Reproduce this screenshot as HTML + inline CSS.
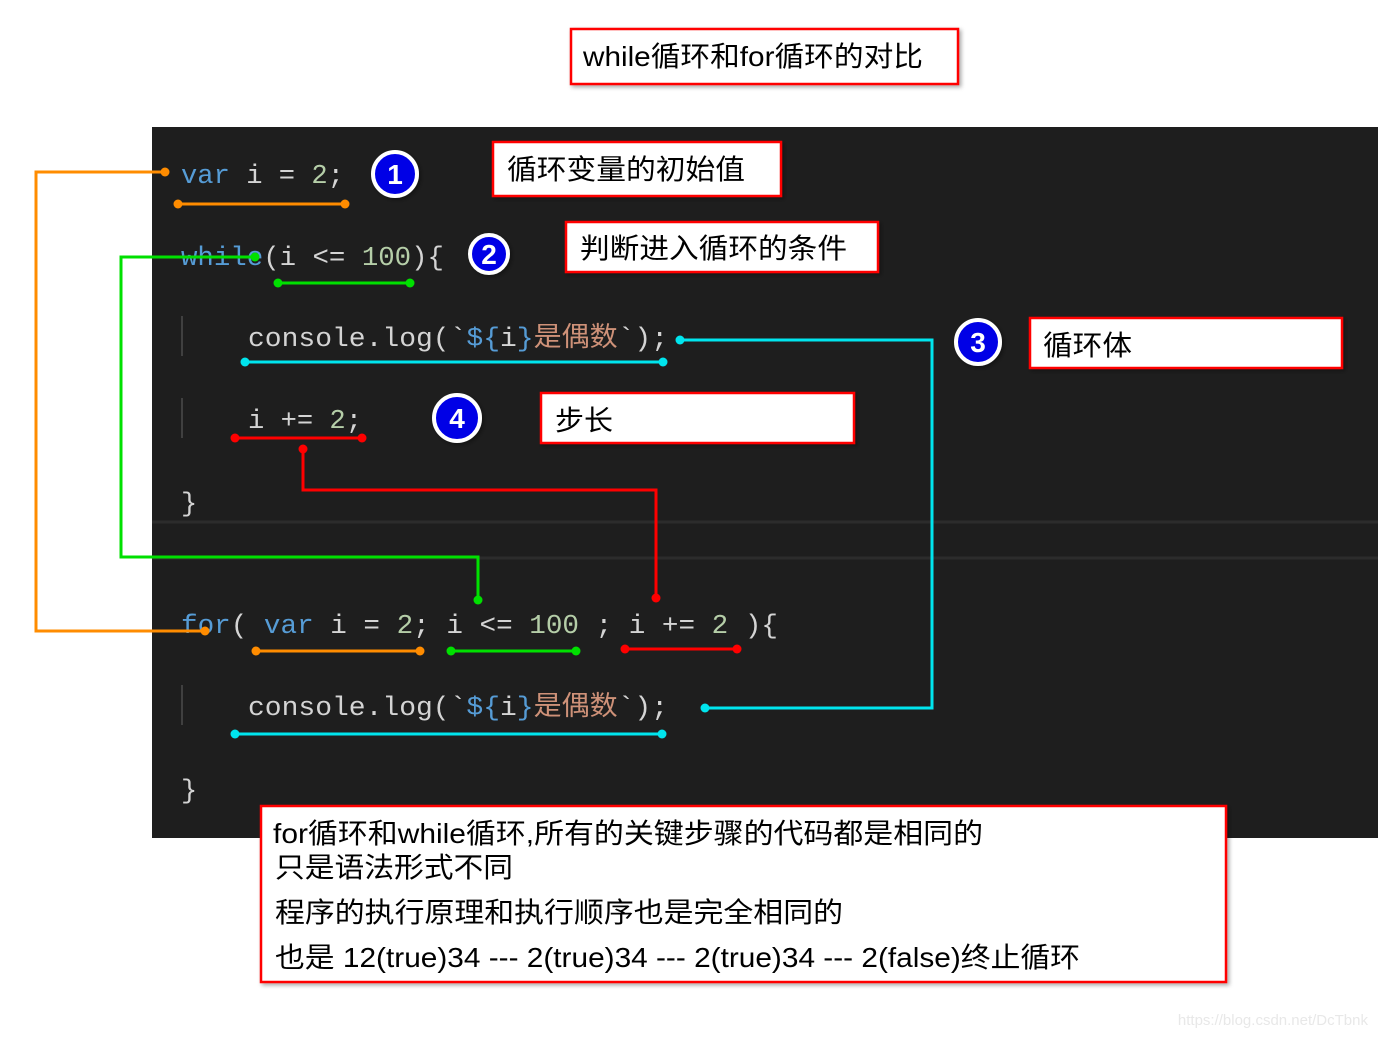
<!DOCTYPE html>
<html><head><meta charset="utf-8"><style>
html,body{margin:0;padding:0;background:#fff;width:1378px;height:1038px;overflow:hidden}
svg{display:block}
.c{font-family:"Liberation Mono","Noto Sans CJK SC",monospace;font-size:27px}
.k{fill:#569cd6}.n{fill:#b5cea8}.t{fill:#d4d4d4}.s{fill:#ce9178}
.b{font-family:"Liberation Sans","Noto Sans CJK SC",sans-serif;font-size:28px;fill:#000}
.num{font-family:"Liberation Sans",sans-serif;font-weight:bold;font-size:28px;fill:#fff}
</style></head><body>
<svg width="1378" height="1038" viewBox="0 0 1378 1038" xmlns="http://www.w3.org/2000/svg">
<defs><filter id="sh" x="-20%" y="-20%" width="140%" height="140%"><feDropShadow dx="2" dy="2" stdDeviation="2" flood-color="#000" flood-opacity="0.35"/></filter></defs>
<rect x="152" y="127" width="1226" height="711" fill="#1e1e1e"/>
<line x1="152" y1="522" x2="1378" y2="522" stroke="#2c2c2c" stroke-width="3"/>
<line x1="152" y1="558" x2="1378" y2="558" stroke="#2c2c2c" stroke-width="3"/>
<line x1="182" y1="316" x2="182" y2="356" stroke="#404040" stroke-width="2"/>
<line x1="182" y1="398" x2="182" y2="438" stroke="#404040" stroke-width="2"/>
<line x1="182" y1="685" x2="182" y2="725" stroke="#404040" stroke-width="2"/>

<!-- code -->
<text class="c" x="181" y="183" xml:space="preserve" textLength="163" lengthAdjust="spacingAndGlyphs"><tspan class="k">var</tspan><tspan class="t"> i = </tspan><tspan class="n">2</tspan><tspan class="t">;</tspan></text>
<text class="c" x="181" y="265" xml:space="preserve" textLength="263" lengthAdjust="spacingAndGlyphs"><tspan class="k">while</tspan><tspan class="t">(i &lt;= </tspan><tspan class="n">100</tspan><tspan class="t">){</tspan></text>
<text class="c" x="248" y="346" xml:space="preserve" textLength="420" lengthAdjust="spacingAndGlyphs"><tspan class="t">console.log(`</tspan><tspan class="k">${</tspan><tspan class="t">i</tspan><tspan class="k">}</tspan><tspan class="s">是偶数</tspan><tspan class="t">`);</tspan></text>
<text class="c" x="248" y="428" xml:space="preserve" textLength="114" lengthAdjust="spacingAndGlyphs"><tspan class="t">i += </tspan><tspan class="n">2</tspan><tspan class="t">;</tspan></text>
<text class="c t" x="181" y="511">}</text>
<text class="c" x="181" y="633" xml:space="preserve" textLength="597" lengthAdjust="spacingAndGlyphs"><tspan class="k">for</tspan><tspan class="t">( </tspan><tspan class="k">var</tspan><tspan class="t"> i = </tspan><tspan class="n">2</tspan><tspan class="t">; i &lt;= </tspan><tspan class="n">100</tspan><tspan class="t"> ; i += </tspan><tspan class="n">2</tspan><tspan class="t"> ){</tspan></text>
<text class="c" x="248" y="715" xml:space="preserve" textLength="420" lengthAdjust="spacingAndGlyphs"><tspan class="t">console.log(`</tspan><tspan class="k">${</tspan><tspan class="t">i</tspan><tspan class="k">}</tspan><tspan class="s">是偶数</tspan><tspan class="t">`);</tspan></text>
<text class="c t" x="181" y="798">}</text>

<!-- connectors -->
<g fill="none" stroke-width="3">
<polyline points="165,172 36,172 36,631 205,631" stroke="#ff8c00"/>
<line x1="178" y1="204" x2="345" y2="204" stroke="#ff8c00"/>
<line x1="256" y1="651" x2="420" y2="651" stroke="#ff8c00"/>
<polyline points="255,257 121,257 121,557 478,557 478,600" stroke="#00e000"/>
<line x1="278" y1="283" x2="410" y2="283" stroke="#00e000"/>
<line x1="451" y1="651" x2="576" y2="651" stroke="#00e000"/>
<polyline points="680,340 932,340 932,708 705,708" stroke="#00e5ee"/>
<line x1="245" y1="362" x2="663" y2="362" stroke="#00e5ee"/>
<line x1="235" y1="734" x2="662" y2="734" stroke="#00e5ee"/>
<polyline points="303,449 303,490 656,490 656,598" stroke="#ff0000"/>
<line x1="235" y1="438" x2="362" y2="438" stroke="#ff0000"/>
<line x1="625" y1="649" x2="737" y2="649" stroke="#ff0000"/>
</g>
<g>
<g fill="#ff8c00"><circle cx="165" cy="172" r="4.5"/><circle cx="205" cy="631" r="4.5"/><circle cx="178" cy="204" r="4.5"/><circle cx="345" cy="204" r="4.5"/><circle cx="256" cy="651" r="4.5"/><circle cx="420" cy="651" r="4.5"/></g>
<g fill="#00e000"><circle cx="255" cy="257" r="4.5"/><circle cx="478" cy="600" r="4.5"/><circle cx="278" cy="283" r="4.5"/><circle cx="410" cy="283" r="4.5"/><circle cx="451" cy="651" r="4.5"/><circle cx="576" cy="651" r="4.5"/></g>
<g fill="#00e5ee"><circle cx="680" cy="340" r="4.5"/><circle cx="705" cy="708" r="4.5"/><circle cx="245" cy="362" r="4.5"/><circle cx="663" cy="362" r="4.5"/><circle cx="235" cy="734" r="4.5"/><circle cx="662" cy="734" r="4.5"/></g>
<g fill="#ff0000"><circle cx="303" cy="449" r="4.5"/><circle cx="656" cy="598" r="4.5"/><circle cx="235" cy="438" r="4.5"/><circle cx="362" cy="438" r="4.5"/><circle cx="625" cy="649" r="4.5"/><circle cx="737" cy="649" r="4.5"/></g>
</g>

<!-- numbered circles -->
<g filter="url(#sh)">
<circle cx="395" cy="174" r="22" fill="#0000e6" stroke="#fff" stroke-width="4"/>
<circle cx="489" cy="254" r="19" fill="#0000e6" stroke="#fff" stroke-width="4"/>
<circle cx="978" cy="342" r="22" fill="#0000e6" stroke="#fff" stroke-width="4"/>
<circle cx="457" cy="418" r="23" fill="#0000e6" stroke="#fff" stroke-width="4"/>
</g>
<text class="num" x="395" y="184" text-anchor="middle">1</text>
<text class="num" x="489" y="264" text-anchor="middle">2</text>
<text class="num" x="978" y="352" text-anchor="middle">3</text>
<text class="num" x="457" y="428" text-anchor="middle">4</text>

<!-- boxes -->
<g fill="#fff" stroke="#ff0000" stroke-width="2.5" filter="url(#sh)">
<rect x="571" y="29" width="387" height="55"/>
<rect x="493" y="142" width="288" height="54"/>
<rect x="566" y="222" width="312" height="50"/>
<rect x="1030" y="318" width="312" height="50"/>
<rect x="541" y="393" width="313" height="50"/>
<rect x="261" y="806" width="965" height="176"/>
</g>
<text class="b" x="583" y="66" style="font-size:28px" textLength="340" lengthAdjust="spacingAndGlyphs">while循环和for循环的对比</text>
<text class="b" x="507" y="179" fill="#222" textLength="238" lengthAdjust="spacingAndGlyphs">循环变量的初始值</text>
<text class="b" x="580" y="258" textLength="267" lengthAdjust="spacingAndGlyphs">判断进入循环的条件</text>
<text class="b" x="1043" y="355" textLength="89" lengthAdjust="spacingAndGlyphs">循环体</text>
<text class="b" x="555" y="430" textLength="58" lengthAdjust="spacingAndGlyphs">步长</text>
<text class="b" x="273" y="843" textLength="710" lengthAdjust="spacingAndGlyphs">for循环和while循环,所有的关键步骤的代码都是相同的</text>
<text class="b" x="275" y="877" textLength="238" lengthAdjust="spacingAndGlyphs">只是语法形式不同</text>
<text class="b" x="275" y="922" textLength="568" lengthAdjust="spacingAndGlyphs">程序的执行原理和执行顺序也是完全相同的</text>
<text class="b" x="275" y="967" textLength="805" lengthAdjust="spacingAndGlyphs">也是 12(true)34 --- 2(true)34 --- 2(true)34 --- 2(false)终止循环</text>

<text x="1368" y="1025" text-anchor="end" font-family="Liberation Sans,sans-serif" font-size="15" fill="#e8e8e8">https://blog.csdn.net/DcTbnk</text>
</svg>
</body></html>
